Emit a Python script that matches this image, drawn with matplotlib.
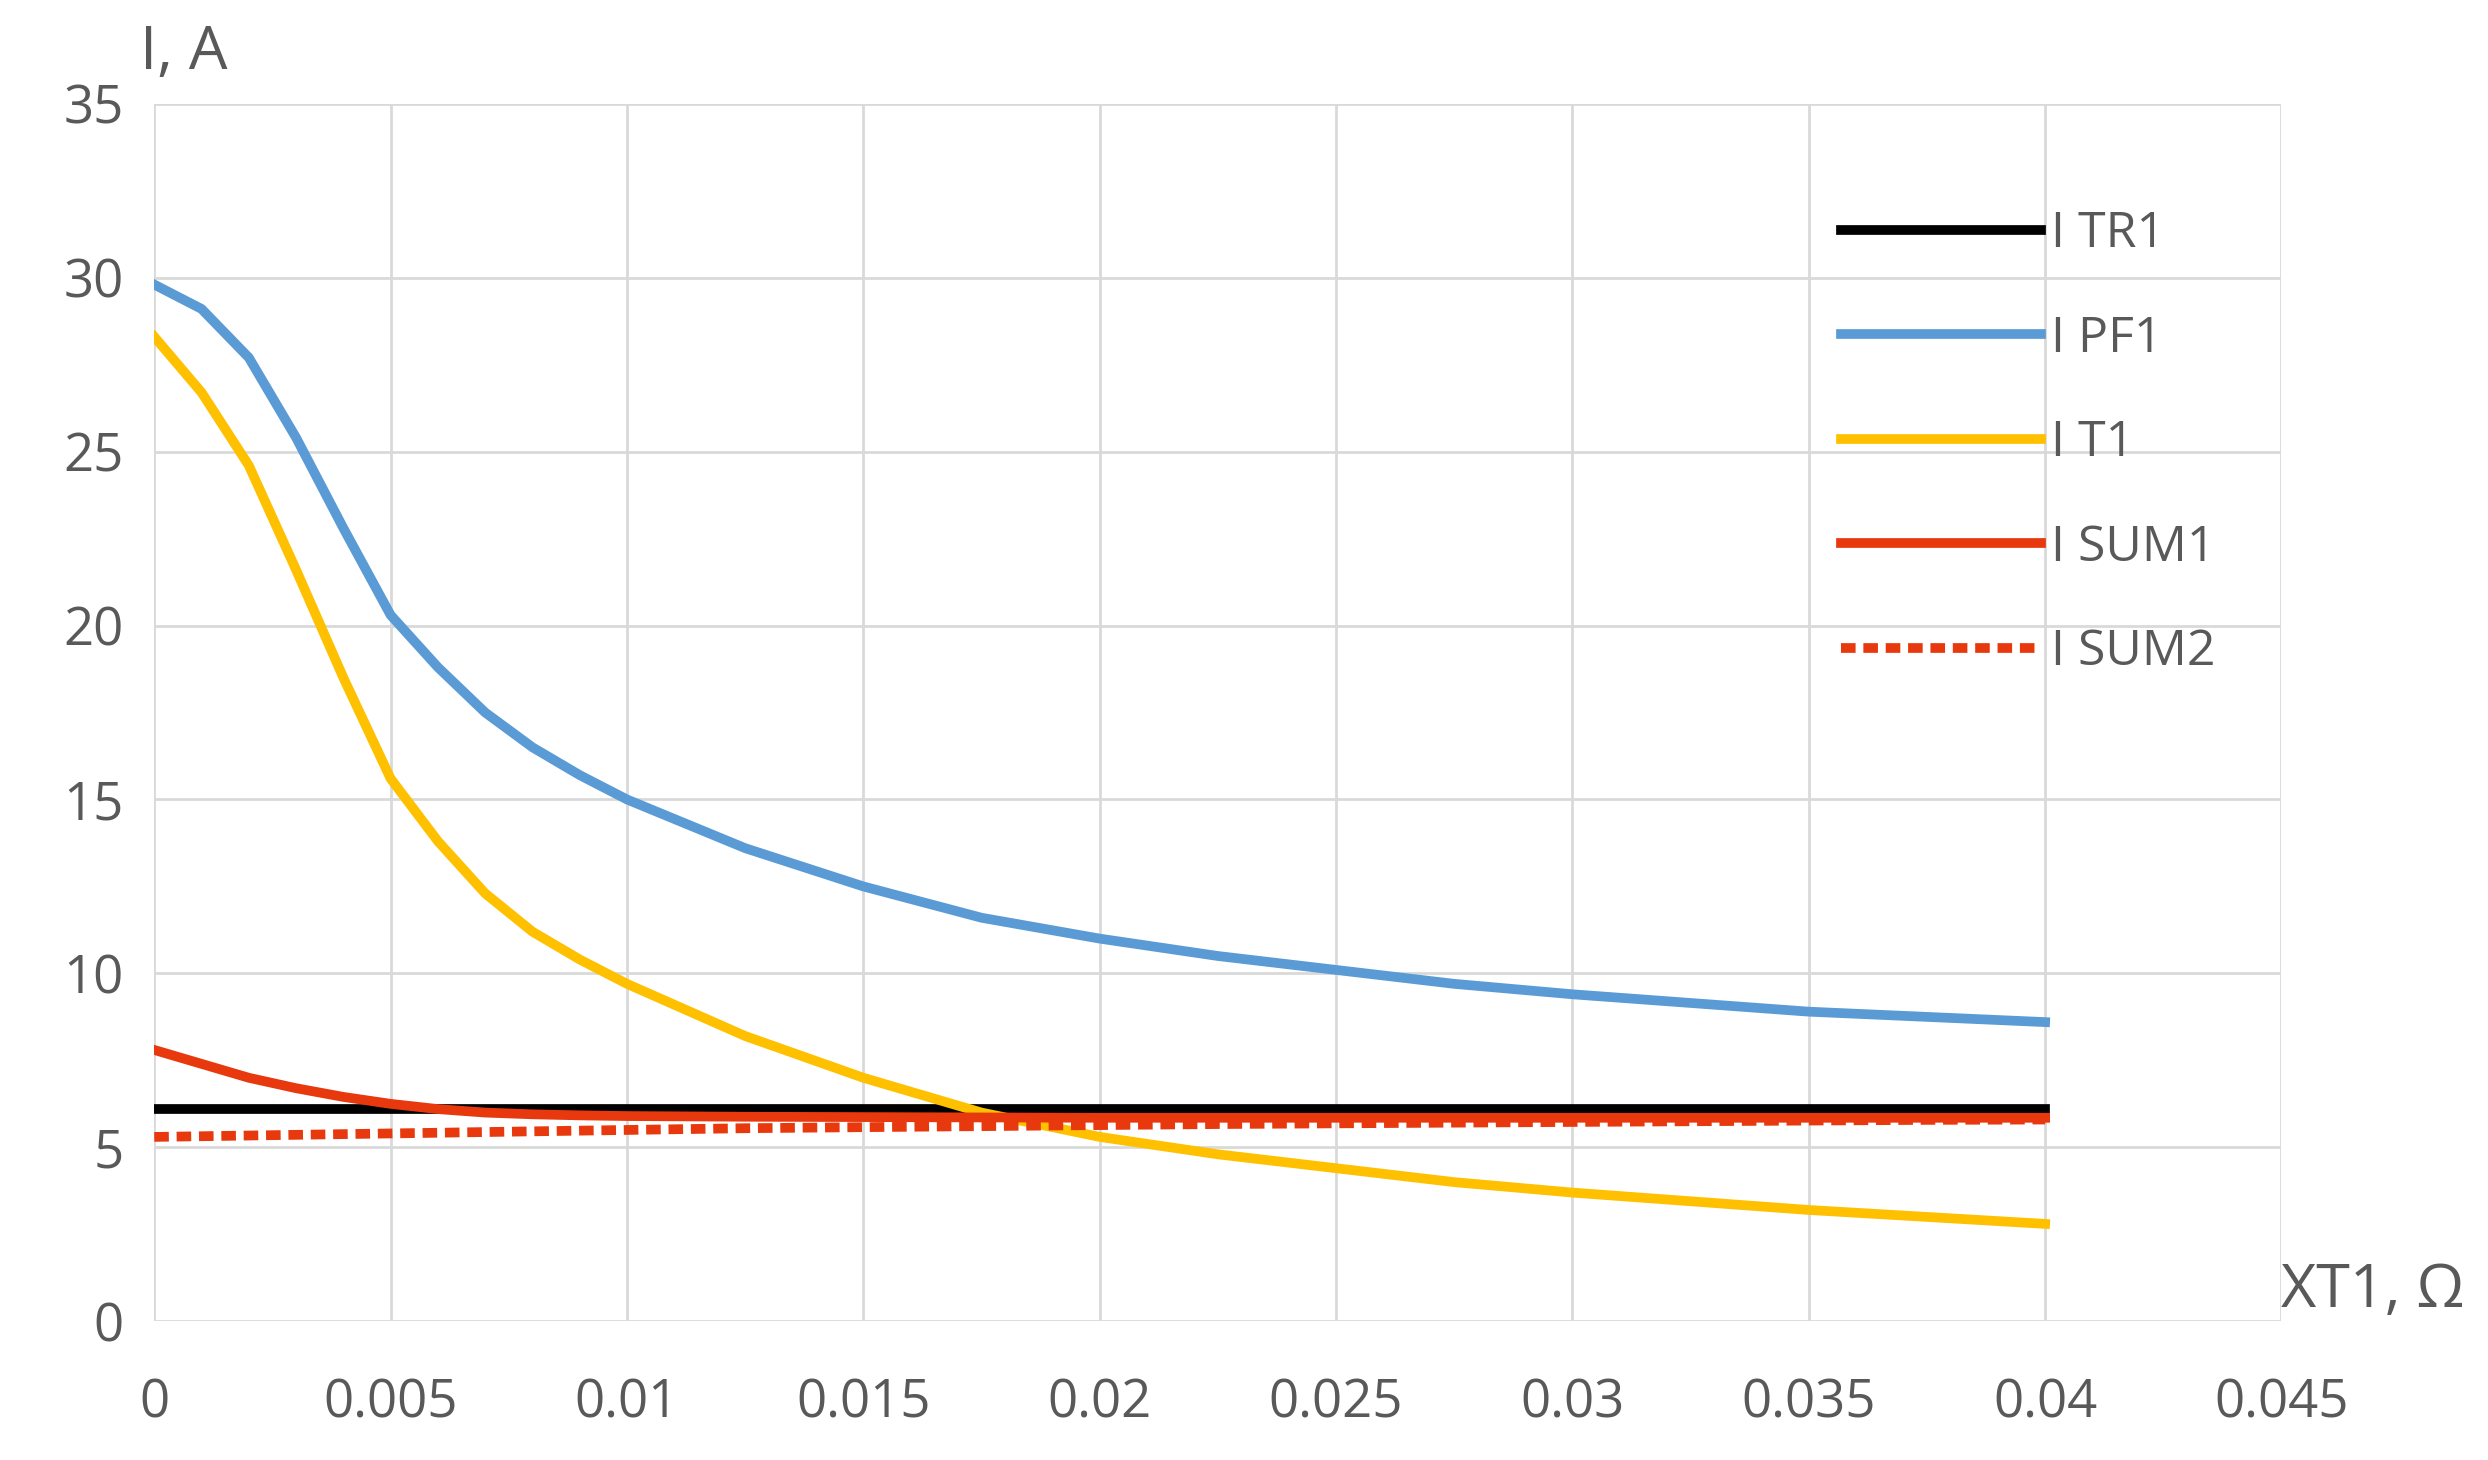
import matplotlib.pyplot as plt

plt.rcParams['font.family'] = ['Open Sans', 'DejaVu Sans']

# X values, ohm
x = [0, 0.001, 0.002, 0.003, 0.004, 0.005, 0.006, 0.007, 0.008, 0.009, 0.01,
     0.0125, 0.015, 0.0175, 0.02, 0.0225, 0.025, 0.0275, 0.03, 0.0325, 0.035, 0.0375, 0.04]
i_tr1 = [6.1] * len(x)
i_pf1 = [29.8, 29.1, 27.7, 25.4, 22.8, 20.3, 18.8, 17.5, 16.5, 15.7, 15.0,
         13.6, 12.5, 11.6, 11.0, 10.5, 10.1, 9.7, 9.4, 9.15, 8.9, 8.75, 8.6]
i_t1 = [28.3, 26.7, 24.6, 21.6, 18.5, 15.6, 13.8, 12.3, 11.2, 10.4, 9.7,
        8.2, 7.0, 6.0, 5.3, 4.8, 4.4, 4.0, 3.7, 3.45, 3.2, 3.0, 2.8]
i_sum1 = [7.8, 7.4, 7.0, 6.7, 6.45, 6.25, 6.1, 6.0, 5.95, 5.92, 5.9,
          5.88, 5.87, 5.86, 5.85, 5.85, 5.85, 5.85, 5.85, 5.85, 5.85, 5.85, 5.85]
i_sum2 = [5.3, 5.32, 5.34, 5.36, 5.38, 5.4, 5.42, 5.44, 5.46, 5.48, 5.5,
          5.55, 5.58, 5.61, 5.64, 5.67, 5.69, 5.71, 5.73, 5.75, 5.77, 5.79, 5.8]

grey = '#595959'
fig = plt.figure(figsize=(24.88, 14.6), dpi=100)
ax = fig.add_axes([0.062, 0.095, 0.855, 0.834])

ax.plot(x, i_tr1, color='black', lw=7, label='I TR1')
ax.plot(x, i_pf1, color='#5b9bd5', lw=7, label='I PF1')
ax.plot(x, i_t1, color='#ffc000', lw=7, label='I T1')
ax.plot(x, i_sum1, color='#e8380d', lw=7, label='I SUM1')
ax.plot(x, i_sum2, color='#e8380d', lw=7, ls=(0, (1.5, 0.8)), label='I SUM2')

ax.set_xlim(0, 0.045)
ax.set_ylim(0, 35)
ax.set_xticks([0, 0.005, 0.01, 0.015, 0.02, 0.025, 0.03, 0.035, 0.04, 0.045])
ax.set_xticklabels(['0', '0.005', '0.01', '0.015', '0.02', '0.025', '0.03', '0.035', '0.04', '0.045'])
ax.set_yticks(range(0, 36, 5))
ax.grid(True, color='#d9d9d9', lw=2)
ax.set_axisbelow(True)
for s in ax.spines.values():
    s.set_visible(False)
ax.tick_params(length=0, labelsize=38, labelcolor=grey, pad=22)
ax.tick_params(axis='x', pad=40)

ax.text(-0.0003, 35.6, 'I, A', fontsize=44, color=grey, ha='left', va='bottom')
ax.text(0.0450, 0.0, 'XT1, Ω', fontsize=44, color=grey, ha='left', va='bottom')

leg = ax.legend(loc='upper right', bbox_to_anchor=(0.99, 0.95), frameon=False,
                fontsize=36, handlelength=4.0, labelspacing=1.1, handletextpad=0.2)
for t in leg.get_texts():
    t.set_color(grey)

fig.savefig('out.png', dpi=100)
